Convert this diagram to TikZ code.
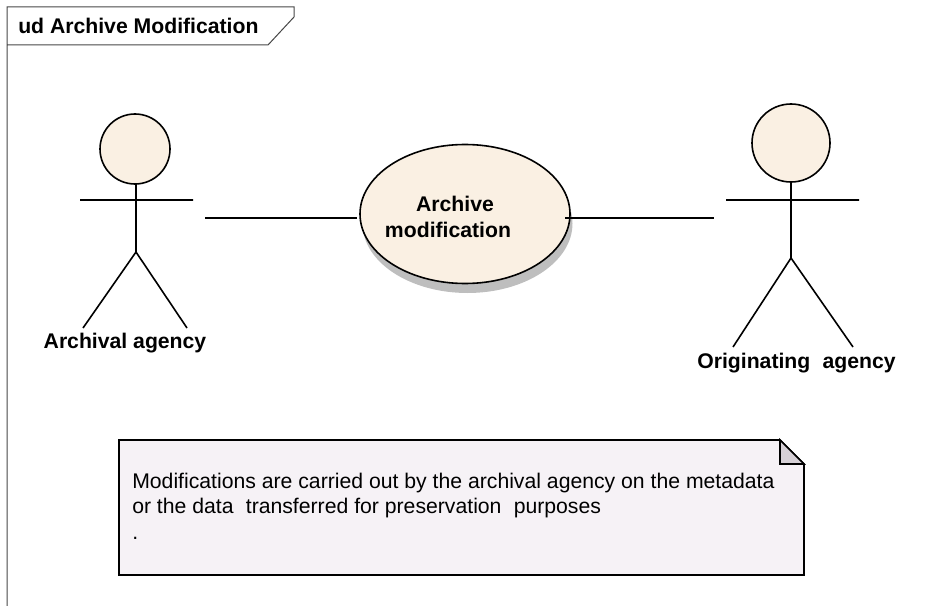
\documentclass[tikz,border=0pt]{standalone}
\usepackage{fontspec}
\usetikzlibrary{shapes.geometric}
\setmainfont{Liberation Sans}
\definecolor{cream}{RGB}{250,240,227}
\definecolor{notefill}{RGB}{246,242,246}
\definecolor{foldfill}{RGB}{214,208,214}
\definecolor{shadowc}{RGB}{190,190,190}
\definecolor{framec}{RGB}{70,70,70}
\tikzset{
  actorline/.style={draw=black,line width=1.2pt},
  part/.style={fill=cream,draw=black,line width=1.2pt},
  lbl/.style={font=\fontsize{15.9pt}{19pt}\selectfont\bfseries,inner sep=0,align=center},
  frameline/.style={draw=framec,line width=0.75pt},
  noteline/.style={draw=black,line width=1.2pt,line join=miter}
}
\begin{document}
\begin{tikzpicture}[x=0.75pt,y=-0.75pt]
\useasboundingbox (0,0) rectangle (927,606);
% frame
\draw[frameline] (7,606) -- (7,7) -- (294,7) -- (294,17) -- (268,45) -- (7,45);
\node[anchor=west,font=\fontsize{15.9pt}{19pt}\selectfont\bfseries,inner sep=0] (title) at (18,26) {ud Archive Modification};
% left actor
\node[circle,part,minimum size=70pt*0.75,inner sep=0] (headL) at (135,149) {};
\coordinate (neckL) at (136,184);
\coordinate (hipL) at (136,252);
\coordinate (armL1) at (80,200);
\coordinate (armL2) at (193,200);
\coordinate (footL1) at (83,328);
\coordinate (footL2) at (187,328);
\draw[actorline] (neckL) -- (hipL) (armL1) -- (armL2) (footL1) -- (hipL) -- (footL2);
\node[lbl] (labelL) at (125,343) {Archival agency};
% right actor
\node[circle,part,minimum size=78pt*0.75,inner sep=0] (headR) at (791,143) {};
\coordinate (neckR) at (791,183);
\coordinate (hipR) at (791,258);
\coordinate (armR1) at (726,200);
\coordinate (armR2) at (859,200);
\coordinate (footR1) at (733,347);
\coordinate (footR2) at (853,347);
\draw[actorline] (neckR) -- (hipR) (armR1) -- (armR2) (footR1) -- (hipR) -- (footR2);
\node[lbl] (labelR) at (796.5,363) {Originating\hspace{0.58em}agency};
% use case
\fill[shadowc] (467.5,223.5) ellipse [x radius=105,y radius=69.5];
\node[ellipse,part,minimum width=210pt*0.75,minimum height=139pt*0.75,inner sep=0] (uc) at (465,214) {};
\node[lbl] (uctext) at (448,217) {\hspace*{10.5pt}Archive\\modification};
% connectors
\coordinate (c1a) at (205,217.8);
\coordinate (c1b) at (357,217.8);
\coordinate (c2a) at (565,217.8);
\coordinate (c2b) at (714,217.8);
\draw[actorline] (c1a) -- (c1b);
\draw[actorline] (c2a) -- (c2b);
% note
\draw[fill=notefill,noteline] (119,440) -- (780,440) -- (804,464) -- (804,575) -- (119,575) -- cycle;
\draw[fill=foldfill,noteline] (780,440) -- (804,464) -- (780,464) -- cycle;
\node[anchor=north west,inner sep=0,align=left,font=\fontsize{15.9pt}{19.1pt}\selectfont] (notetext) at (132,472.5) {Modifications are carried out by the archival agency on the metadata\\or the data\hspace{0.3em} transferred for preservation\hspace{0.3em} purposes\\.};
\end{tikzpicture}
\end{document}
